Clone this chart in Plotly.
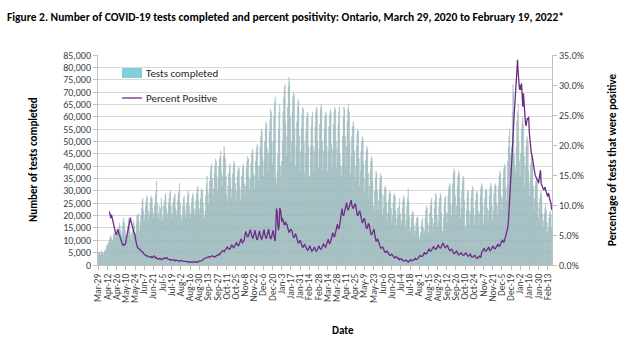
import pandas as pd
import plotly.graph_objects as go

# Daily dates, Sunday Mar 29 2020 .. Saturday Feb 19 2022 (99 weeks)
dates = pd.date_range("2020-03-29", "2022-02-19", freq="D")

# Tests completed per day (thousands), one row per week (Sun..Sat)
tests_thousands = [
    5, 5, 5, 4, 5, 6, 5,
    5, 4, 5, 6, 6, 7, 8,
    8, 9, 9, 10, 11, 12, 11,
    9, 10, 12, 13, 13, 14, 12,
    11, 12, 13, 15, 17, 16, 14,
    12, 13, 16, 18, 19, 17, 14,
    12, 11, 13, 16, 19, 18, 15,
    12, 13, 10, 14, 17, 18, 16,
    12, 13, 17, 20, 20, 21, 18,
    14, 17, 20, 23, 26, 27, 22,
    18, 20, 24, 26, 28, 27, 22,
    18, 21, 25, 27, 28, 27, 23,
    19, 21, 24, 28, 30, 34, 25,
    19, 21, 24, 18, 23, 27, 24,
    18, 20, 24, 26, 28, 29, 23,
    19, 21, 25, 27, 29, 30, 24,
    19, 21, 25, 27, 28, 29, 23,
    20, 22, 26, 29, 30, 33, 25,
    20, 18, 20, 24, 27, 28, 24,
    19, 22, 25, 28, 30, 29, 24,
    19, 21, 25, 27, 29, 28, 23,
    20, 22, 26, 29, 31, 32, 26,
    21, 23, 27, 30, 31, 30, 25,
    20, 19, 22, 28, 33, 36, 30,
    25, 29, 34, 38, 40, 41, 35,
    28, 31, 37, 40, 43, 42, 36,
    30, 35, 40, 43, 44, 46, 38,
    32, 36, 44, 48, 45, 43, 36,
    28, 26, 32, 37, 40, 41, 35,
    27, 31, 37, 40, 42, 41, 33,
    26, 30, 36, 38, 40, 39, 32,
    26, 30, 36, 39, 41, 40, 33,
    28, 32, 39, 42, 44, 43, 35,
    30, 35, 41, 45, 47, 46, 37,
    31, 36, 42, 46, 48, 49, 40,
    34, 40, 48, 52, 55, 54, 44,
    36, 42, 50, 55, 58, 57, 47,
    38, 45, 54, 59, 63, 62, 50,
    41, 50, 60, 66, 68, 35, 33,
    38, 45, 55, 62, 65, 40, 36,
    42, 50, 62, 68, 72, 73, 58,
    44, 52, 64, 72, 76, 74, 60,
    42, 50, 62, 68, 70, 69, 55,
    40, 48, 58, 64, 67, 66, 52,
    38, 46, 55, 61, 64, 63, 50,
    37, 45, 54, 60, 62, 61, 48,
    36, 35, 48, 56, 60, 62, 48,
    38, 46, 56, 62, 64, 63, 50,
    39, 47, 57, 63, 65, 64, 50,
    38, 46, 55, 60, 62, 61, 48,
    38, 46, 56, 61, 63, 62, 49,
    39, 47, 57, 62, 64, 63, 50,
    39, 47, 57, 62, 64, 45, 40,
    36, 40, 52, 60, 64, 63, 52,
    40, 48, 58, 63, 65, 62, 50,
    37, 44, 52, 56, 58, 57, 46,
    34, 40, 48, 53, 55, 54, 43,
    32, 38, 46, 50, 52, 51, 41,
    29, 35, 42, 46, 48, 47, 37,
    27, 32, 38, 42, 44, 43, 34,
    24, 22, 30, 35, 38, 37, 30,
    22, 26, 31, 35, 37, 36, 29,
    20, 23, 28, 31, 32, 31, 25,
    18, 21, 26, 29, 30, 29, 23,
    17, 20, 25, 28, 29, 28, 22,
    16, 19, 23, 20, 24, 27, 21,
    16, 18, 23, 26, 28, 27, 21,
    15, 18, 24, 27, 31, 26, 20,
    13, 15, 19, 21, 22, 21, 16,
    12, 14, 17, 19, 20, 19, 15,
    11, 10, 13, 16, 18, 19, 15,
    12, 14, 19, 22, 24, 23, 17,
    13, 16, 21, 24, 26, 27, 19,
    14, 17, 23, 26, 29, 28, 20,
    15, 18, 24, 27, 29, 28, 21,
    14, 13, 19, 24, 27, 28, 21,
    17, 21, 28, 31, 33, 32, 24,
    20, 25, 33, 37, 39, 38, 28,
    20, 24, 32, 36, 38, 37, 27,
    19, 23, 30, 34, 36, 35, 26,
    16, 15, 22, 27, 30, 30, 22,
    17, 21, 27, 30, 32, 31, 23,
    16, 20, 26, 29, 30, 29, 22,
    17, 21, 28, 31, 33, 32, 24,
    17, 20, 27, 30, 31, 30, 23,
    18, 22, 28, 31, 33, 32, 24,
    18, 22, 29, 32, 33, 32, 25,
    20, 24, 32, 36, 38, 37, 28,
    22, 27, 35, 39, 41, 40, 31,
    26, 32, 42, 48, 52, 55, 45,
    40, 48, 62, 73, 70, 45, 40,
    38, 48, 58, 62, 65, 50, 42,
    36, 45, 55, 58, 60, 57, 44,
    32, 40, 48, 51, 52, 50, 38,
    28, 34, 41, 44, 45, 43, 32,
    22, 27, 32, 34, 35, 33, 25,
    19, 23, 27, 29, 30, 28, 21,
    15, 18, 21, 23, 25, 22, 17,
    13, 15, 19, 21, 22, 20, 15,
]

N = None
# Percent positive per day (%), one row per week (Sun..Sat)
percent_positive = [
    N, N, N, N, N, N, N,
    N, N, N, N, N, N, N,
    N, N, N, 8.9, 8.2, 7.8, 8.4,
    8.0, 7.5, 7.0, 6.4, 6.0, 5.5, 5.0,
    5.0, 5.8, 5.9, 5.4, 5.0, 4.6, 4.2,
    3.9, 3.7, 3.4, 3.3, 3.5, 3.3, 3.6,
    3.8, 4.5, 5.2, 5.8, 6.4, 7.0, 7.6,
    7.9, 7.2, 6.7, 6.2, 5.8, 5.6, 5.3,
    5.0, 4.2, 3.4, 3.2, 2.9, 2.8, 2.8,
    2.6, 2.5, 2.4, 2.3, 2.2, 2.1, 2.0,
    1.8, 1.7, 1.7, 1.6, 1.5, 1.5, 1.4,
    1.4, 1.3, 1.3, 1.3, 1.4, 1.2, 1.3,
    1.4, 1.5, 1.3, 1.2, 1.3, 1.2, 1.0,
    1.1, 1.0, 1.0, 1.1, 1.0, 0.9, 0.9,
    1.0, 1.1, 1.2, 1.2, 1.1, 1.1, 1.2,
    1.2, 1.0, 1.0, 0.9, 0.9, 0.8, 0.9,
    0.9, 0.9, 0.8, 0.8, 0.8, 0.7, 0.8,
    0.8, 0.8, 0.7, 0.7, 0.7, 0.6, 0.7,
    0.7, 0.8, 0.7, 0.6, 0.6, 0.6, 0.6,
    0.6, 0.7, 0.6, 0.5, 0.5, 0.5, 0.5,
    0.5, 0.5, 0.4, 0.4, 0.4, 0.4, 0.5,
    0.5, 0.5, 0.5, 0.5, 0.5, 0.5, 0.6,
    0.6, 0.6, 0.6, 0.7, 0.8, 0.8, 0.9,
    1.0, 1.1, 1.2, 1.2, 1.2, 1.3, 1.3,
    1.3, 1.4, 1.3, 1.4, 1.4, 1.5, 1.5,
    1.5, 1.4, 1.3, 1.4, 1.5, 1.6, 1.6,
    1.6, 1.8, 1.8, 1.7, 1.8, 2.0, 2.2,
    2.3, 2.4, 2.3, 2.2, 2.4, 2.6, 2.7,
    2.8, 3.0, 2.8, 2.6, 2.6, 2.7, 2.9,
    3.0, 3.4, 3.1, 2.9, 2.9, 3.1, 3.3,
    3.5, 3.8, 3.4, 3.2, 3.2, 3.4, 3.7,
    4.0, 4.4, 4.0, 3.7, 3.8, 4.0, 4.3,
    5.0, 5.6, 5.2, 4.8, 4.6, 4.8, 5.1,
    5.3, 5.9, 5.4, 4.9, 4.6, 4.5, 4.8,
    5.2, 5.8, 5.1, 4.4, 4.2, 4.3, 4.7,
    5.1, 5.7, 5.0, 4.5, 4.3, 4.4, 4.8,
    5.2, 5.9, 5.2, 4.6, 4.4, 4.6, 5.0,
    5.4, 6.0, 5.2, 4.6, 4.3, 4.5, 5.0,
    5.4, 5.8, 4.8, 4.2, 4.0, 6.5, 9.4,
    9.0, 6.8, 5.8, 6.5, 9.5, 9.2, 8.4,
    7.2, 7.8, 7.2, 6.8, 6.6, 6.9, 7.2,
    6.7, 6.8, 6.2, 5.8, 5.5, 5.6, 5.8,
    6.0, 5.8, 5.2, 4.8, 4.6, 4.6, 5.0,
    5.2, 4.9, 4.4, 3.9, 3.7, 3.7, 4.0,
    4.1, 3.9, 3.4, 3.1, 3.0, 3.0, 3.3,
    3.4, 3.2, 2.9, 2.6, 2.5, 2.5, 2.8,
    3.0, 3.2, 2.8, 2.4, 2.3, 2.4, 2.7,
    2.9, 3.0, 2.6, 2.4, 2.3, 2.5, 2.8,
    3.0, 3.2, 2.8, 2.6, 2.6, 2.8, 3.1,
    3.3, 3.6, 3.2, 3.0, 3.0, 3.3, 3.6,
    3.9, 4.3, 3.8, 3.6, 3.7, 4.0, 4.5,
    5.0, 5.4, 4.9, 4.7, 4.8, 5.2, 5.8,
    6.3, 6.8, 6.2, 6.0, 6.3, 7.2, 8.2,
    9.0, 9.4, 8.6, 8.2, 8.4, 8.8, 9.4,
    10.0, 10.4, 9.6, 9.2, 9.3, 9.7, 10.3,
    10.6, 10.8, 10.0, 9.5, 9.4, 9.6, 10.0,
    10.2, 10.0, 9.0, 8.4, 8.2, 8.4, 8.8,
    9.0, 8.6, 7.8, 7.2, 7.0, 7.2, 7.6,
    7.8, 7.4, 6.6, 6.2, 6.1, 6.3, 6.8,
    6.9, 6.4, 5.6, 5.2, 5.0, 5.2, 5.6,
    5.8, 6.0, 5.0, 4.3, 4.0, 4.0, 4.3,
    4.2, 3.8, 3.2, 2.9, 2.8, 2.8, 3.0,
    3.0, 2.8, 2.4, 2.2, 2.1, 2.1, 2.3,
    2.3, 2.2, 1.9, 1.7, 1.6, 1.6, 1.8,
    1.8, 1.7, 1.4, 1.3, 1.2, 1.2, 1.4,
    1.4, 1.3, 1.1, 1.0, 1.1, 0.9, 1.0,
    1.0, 1.0, 0.8, 0.7, 0.7, 0.7, 0.8,
    0.8, 0.8, 0.6, 0.6, 0.5, 0.6, 0.7,
    0.8, 0.9, 0.7, 0.7, 0.7, 0.8, 0.9,
    1.0, 1.1, 0.9, 0.9, 1.0, 1.1, 1.3,
    1.4, 1.6, 1.5, 1.4, 1.4, 1.5, 1.7,
    1.9, 2.1, 1.9, 1.8, 1.9, 2.0, 2.3,
    2.5, 2.7, 2.4, 2.3, 2.4, 2.5, 2.8,
    2.9, 3.1, 2.8, 2.6, 2.6, 2.7, 3.0,
    3.2, 3.4, 3.0, 2.8, 2.8, 2.9, 3.2,
    3.4, 3.6, 3.5, 3.1, 2.9, 2.9, 3.1,
    3.2, 3.3, 2.9, 2.6, 2.5, 2.4, 2.6,
    2.6, 2.6, 2.2, 2.0, 1.9, 1.9, 2.1,
    2.2, 2.3, 2.0, 1.8, 1.7, 1.7, 1.9,
    2.0, 2.1, 1.8, 1.6, 1.6, 1.6, 1.8,
    1.9, 2.0, 1.9, 1.6, 1.5, 1.5, 1.7,
    1.7, 1.8, 1.5, 1.3, 1.3, 1.3, 1.5,
    1.5, 1.6, 1.3, 1.2, 1.1, 1.1, 1.3,
    1.4, 1.5, 1.3, 1.3, 2.0, 2.3, 2.6,
    2.6, 2.8, 2.4, 2.3, 2.3, 2.5, 2.8,
    2.8, 3.0, 2.6, 2.4, 2.5, 2.6, 2.9,
    3.0, 3.2, 2.8, 2.7, 2.7, 2.9, 3.2,
    3.3, 3.5, 3.2, 3.1, 3.2, 3.5, 3.8,
    4.0, 4.2, 3.9, 3.8, 4.0, 4.4, 4.9,
    5.0, 5.6, 6.2, 7.2, 9.0, 10.5, 12.5,
    15.0, 17.0, 19.2, 21.0, 23.5, 25.5, 27.0,
    29.5, 31.0, 32.5, 34.2, 32.0, 30.5, 29.2,
    30.0, 29.2, 30.3, 28.0, 26.4, 28.6, 26.5,
    25.0, 23.7, 23.2, 23.8, 24.5, 24.2, 24.7,
    22.0, 20.5, 19.2, 18.6, 18.3, 17.6, 16.4,
    15.8, 15.2, 14.9, 14.7, 14.5, 14.2, 14.0,
    13.6, 14.4, 14.9, 15.8, 13.6, 13.2, 12.9,
    12.7, 12.5, 12.8, 13.0, 12.4, 12.0, 11.6,
    11.4, 12.0, 11.7, 11.0, 10.6, 10.3, 9.2,
]

tick_labels = [
    "Mar-29", "Apr-12", "Apr-26", "May-10", "May-24", "Jun-7", "Jun-21", "Jul-5",
    "Jul-19", "Aug-2", "Aug-16", "Aug-30", "Sep-13", "Sep-27", "Oct-11", "Oct-25",
    "Nov-8", "Nov-22", "Dec-6", "Dec-20", "Jan-3", "Jan-17", "Jan-31", "Feb-14",
    "Feb-28", "Mar-14", "Mar-28", "Apr-11", "Apr-25", "May-9", "May-23", "Jun-6",
    "Jun-20", "Jul-4", "Jul-18", "Aug-1", "Aug-15", "Aug-29", "Sep-12", "Sep-26",
    "Oct-10", "Oct-24", "Nov-7", "Nov-21", "Dec-5", "Dec-19", "Jan-2", "Jan-16",
    "Jan-30", "Feb-13",
]
tick_dates = pd.date_range("2020-03-29", periods=len(tick_labels), freq="14D")

tests = [v * 1000 for v in tests_thousands]

FONT = "Carlito, 'Liberation Sans Narrow', 'DejaVu Sans Condensed', Roboto, sans-serif"
BAR_COLOR = "#86CAD2"
LEGEND_BAR_COLOR = "#80CED7"
LINE_COLOR = "#6E2C85"

# plot-area geometry in pixels (for converting legend/title positions to paper coords)
PL, PR, PT, PB = 98, 552, 55, 265
PW, PH = PR - PL, PB - PT


def px(x):
    return (x - PL) / PW


def py(y):
    return (PB - y) / PH


fig = go.Figure()
fig.add_trace(go.Bar(
    x=dates, y=tests, name="Tests completed",
    marker=dict(color=BAR_COLOR, line=dict(width=0.25, color="#A8A8A8")),
    showlegend=False,
))
fig.add_trace(go.Scatter(
    x=dates, y=percent_positive, name="Percent Positive", yaxis="y2",
    mode="lines", line=dict(color=LINE_COLOR, width=1.3),
    connectgaps=False, showlegend=False,
))

fig.update_layout(
    width=640, height=343,
    margin=dict(l=PL, r=640 - PR, t=PT, b=343 - PB),
    paper_bgcolor="white", plot_bgcolor="white",
    bargap=0.2,
    font=dict(family=FONT, size=10, color="#404040"),
    xaxis=dict(
        type="date",
        range=[pd.Timestamp("2020-03-28 12:00"), pd.Timestamp("2022-02-19 14:00")],
        tickvals=tick_dates, ticktext=tick_labels, tickangle=-90,
        tickfont=dict(size=9.5, color="#404040"),
        showgrid=False, showline=True, linecolor="#BFBFBF", linewidth=1,
        ticks="outside", ticklen=4, tickcolor="#BFBFBF",
    ),
    yaxis=dict(
        range=[0, 85000], dtick=5000, tickformat=",d",
        showgrid=True, gridcolor="#D9D9D9", gridwidth=1,
        showline=True, linecolor="#BFBFBF", ticks="outside", ticklen=4,
        tickcolor="#BFBFBF", tickfont=dict(size=10, color="#404040"), zeroline=False,
    ),
    yaxis2=dict(
        overlaying="y", side="right", range=[0, 35], dtick=5,
        tickformat=".1f", ticksuffix="%", showgrid=False,
        showline=True, linecolor="#BFBFBF", ticks="outside", ticklen=4,
        tickcolor="#BFBFBF", tickfont=dict(size=10, color="#404040"), zeroline=False,
    ),
    shapes=[
        # legend swatches
        dict(type="rect", xref="paper", yref="paper", x0=px(122), x1=px(142),
             y0=py(78), y1=py(68), fillcolor=LEGEND_BAR_COLOR, line=dict(width=0)),
        dict(type="line", xref="paper", yref="paper", x0=px(122), x1=px(142),
             y0=py(98), y1=py(98), line=dict(color=LINE_COLOR, width=1.3)),
    ],
    annotations=[
        dict(text="Tests completed", xref="paper", yref="paper", x=px(144), y=py(73),
             xanchor="left", yanchor="middle", showarrow=False,
             font=dict(size=11, color="#262626", family=FONT)),
        dict(text="Percent Positive", xref="paper", yref="paper", x=px(144), y=py(98),
             xanchor="left", yanchor="middle", showarrow=False,
             font=dict(size=11, color="#262626", family=FONT)),
        dict(text="<b>Figure 2. Number of COVID-19 tests completed and percent positivity: Ontario, March 29, 2020 to February 19, 2022*</b>",
             xref="paper", yref="paper", x=px(5), y=py(17), xanchor="left", yanchor="middle",
             showarrow=False, font=dict(size=11.5, color="#000000", family=FONT)),
        dict(text="<b>Number of tests completed</b>", xref="paper", yref="paper",
             x=px(33), y=py(160), textangle=-90, showarrow=False,
             xanchor="center", yanchor="middle", font=dict(size=11, color="#000000", family=FONT)),
        dict(text="<b>Percentage of tests that were positive</b>", xref="paper", yref="paper",
             x=px(612), y=py(160), textangle=-90, showarrow=False,
             xanchor="center", yanchor="middle", font=dict(size=11, color="#000000", family=FONT)),
        dict(text="<b>Date</b>", xref="paper", yref="paper",
             x=px(343), y=py(330), showarrow=False,
             xanchor="center", yanchor="middle", font=dict(size=11, color="#000000", family=FONT)),
    ],
)

fig.write_html("out.html")
